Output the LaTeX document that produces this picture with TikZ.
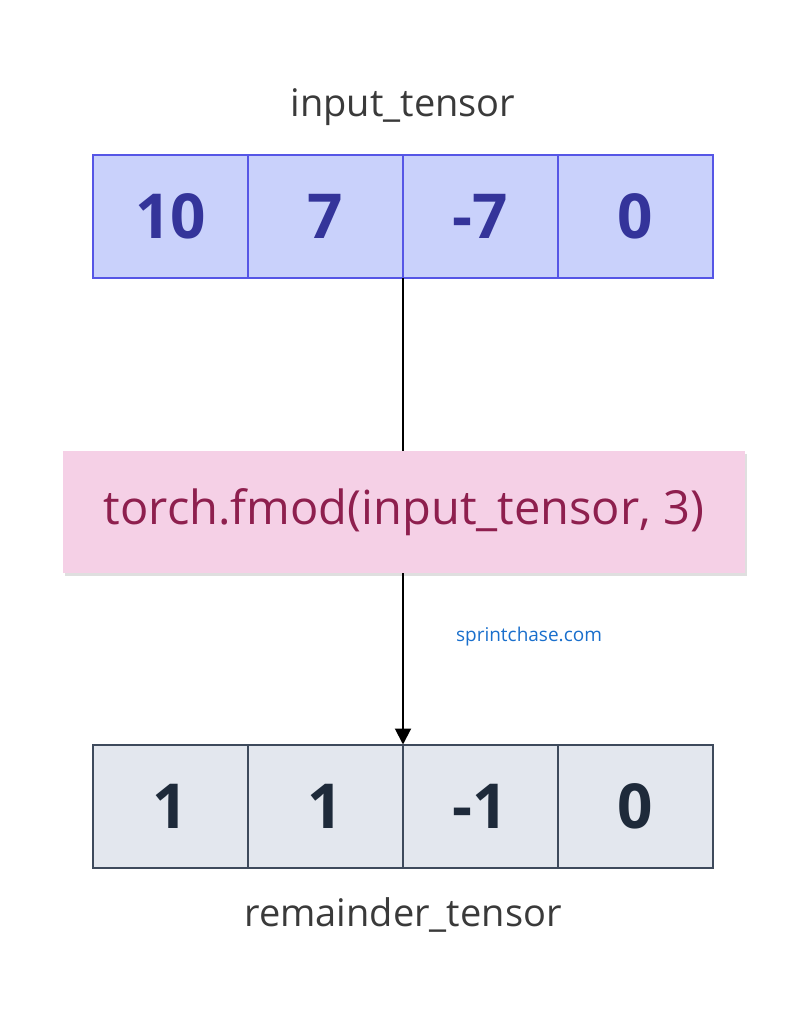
\documentclass[tikz,border=0pt]{standalone}
\usepackage{fontspec}
\setmainfont{Open Sans}
\usetikzlibrary{positioning,shadows,arrows.meta}
\definecolor{inFill}{HTML}{C9D1FB}
\definecolor{inLine}{HTML}{5656E6}
\definecolor{inText}{HTML}{34349A}
\definecolor{outFill}{HTML}{E3E7EE}
\definecolor{outLine}{HTML}{3E4A5C}
\definecolor{outText}{HTML}{1E2A3A}
\definecolor{opFill}{HTML}{F5D0E6}
\definecolor{opText}{HTML}{8E1F4E}
\definecolor{labText}{HTML}{3A3A3A}
\definecolor{webText}{HTML}{1A6FCC}
\tikzset{
  incell/.style={draw=inLine,fill=inFill,line width=2pt,outer sep=0pt,minimum width=155pt,minimum height=123pt,inner sep=0pt,text=inText,font=\bfseries\fontsize{62}{62}\selectfont},
  outcell/.style={draw=outLine,fill=outFill,line width=2pt,outer sep=0pt,minimum width=155pt,minimum height=123pt,inner sep=0pt,text=outText,font=\bfseries\fontsize{62}{62}\selectfont},
  opbox/.style={fill=opFill,minimum width=682pt,minimum height=122pt,text=opText,font=\fontsize{47}{47}\selectfont,drop shadow={opacity=0.25,shadow xshift=2pt,shadow yshift=-3pt}},
  lab/.style={text=labText,font=\fontsize{38}{38}\selectfont}
}
\begin{document}
\begin{tikzpicture}[x=1pt,y=-1pt,>=stealth,node distance=0pt]
\useasboundingbox (0,0) rectangle (808,1024);
% input row
\node[incell] (a1) at (170.5,216.5) {10};
\node[incell,right=of a1] (a2) {7};
\node[incell,right=of a2] (a3) {-7};
\node[incell,right=of a3] (a4) {0};
\node[lab] (inlab) at (403,107) {input\_tensor};
% operation
\node[opbox] (op) at (404,512) {torch.fmod(input\_tensor, 3)};
% output row
\node[outcell] (b1) at (170.5,806) {1};
\node[outcell,right=of b1] (b2) {1};
\node[outcell,right=of b2] (b3) {-1};
\node[outcell,right=of b3] (b4) {0};
\node[lab] (outlab) at (403,915) {remainder\_tensor};
\node[text=webText,font=\fontsize{19}{19}\selectfont] (web) at (529,637) {sprintchase.com};
% arrow
\draw[line width=2pt] (a2.south east) -- (op.north -| a2.south east);
\draw[line width=2pt,-{Triangle[length=16pt,width=16pt]}] (op.south -| a2.south east) -- (b2.north east);
\end{tikzpicture}
\end{document}
